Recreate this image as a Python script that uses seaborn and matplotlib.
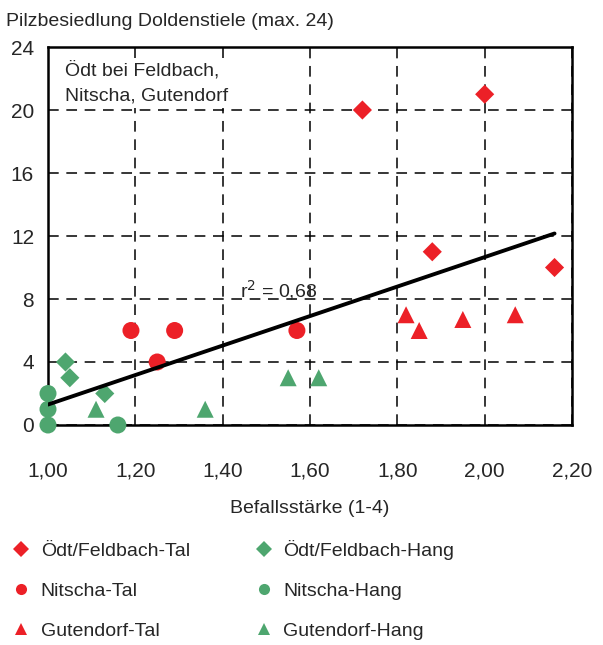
import numpy as np
import pandas as pd
import seaborn as sns
import matplotlib.pyplot as plt

# Befallsstärke (x) und Pilzbesiedlung (y) je Standort
oedt_tal_x = [1.72, 2.00, 1.88, 2.16]
oedt_tal_y = [20, 21, 11, 10]
nitscha_tal_x = [1.19, 1.29, 1.25, 1.57]
nitscha_tal_y = [6, 6, 4, 6]
guten_tal_x = [1.82, 1.85, 1.95, 2.07]
guten_tal_y = [7, 6, 6.7, 7]
oedt_hang_x = [1.04, 1.05, 1.13]
oedt_hang_y = [4, 3, 2]
nitscha_hang_x = [1.00, 1.00, 1.00, 1.16]
nitscha_hang_y = [2, 1, 0, 0]
guten_hang_x = [1.11, 1.36, 1.55, 1.62]
guten_hang_y = [1, 1, 3, 3]

groups = ['Ödt/Feldbach-Tal', 'Nitscha-Tal', 'Gutendorf-Tal',
          'Ödt/Feldbach-Hang', 'Nitscha-Hang', 'Gutendorf-Hang']
xs = [oedt_tal_x, nitscha_tal_x, guten_tal_x, oedt_hang_x, nitscha_hang_x, guten_hang_x]
ys = [oedt_tal_y, nitscha_tal_y, guten_tal_y, oedt_hang_y, nitscha_hang_y, guten_hang_y]

rows = []
for g, gx, gy in zip(groups, xs, ys):
    for a, b in zip(gx, gy):
        rows.append({'Befall': a, 'Pilz': b, 'Gruppe': g})
df = pd.DataFrame(rows)

red = '#ec2027'
green = '#4ea66f'
palette = dict(zip(groups, [red, red, red, green, green, green]))
markers = dict(zip(groups, ['D', 'o', '^', 'D', 'o', '^']))
sizes = dict(zip(groups, [95, 150, 150, 95, 150, 150]))

sns.set_style('white')
plt.rcParams['font.family'] = ['Liberation Sans', 'DejaVu Sans']

fig = plt.figure(figsize=(6.03, 6.45), dpi=100)
ax = fig.add_axes([0.0796, 0.3411, 0.869, 0.586])

sns.scatterplot(data=df, x='Befall', y='Pilz', hue='Gruppe', style='Gruppe', size='Gruppe',
                hue_order=groups, style_order=groups, size_order=groups, palette=palette,
                markers=markers, sizes=sizes, linewidth=0, ax=ax, clip_on=False, zorder=3)

sns.regplot(data=df, x='Befall', y='Pilz', scatter=False, ci=None, ax=ax,
            line_kws={'color': 'black', 'linewidth': 2.8, 'zorder': 4})

ax.set_xlim(1.0, 2.2)
ax.set_ylim(0, 24)
ax.set_xticks(np.arange(1.0, 2.21, 0.2))
ax.set_xticklabels([f'{v:.2f}'.replace('.', ',') for v in np.arange(1.0, 2.21, 0.2)])
ax.set_yticks(range(0, 25, 4))
ax.tick_params(labelsize=15, direction='inout', length=8, width=1.5)
ax.tick_params(axis='x', pad=22)
ax.tick_params(axis='y', pad=6)
ax.grid(True, color='black', linestyle=(0, (7, 5)), linewidth=1.1)
for sp in ax.spines.values():
    sp.set_linewidth(1.8)
    sp.set_color('black')

ax.set_xlabel('Befallsstärke (1-4)', fontsize=14, labelpad=14)
ax.set_ylabel('')
fig.text(0.01, 0.966, 'Pilzbesiedlung Doldenstiele (max. 24)', fontsize=14, va='center')
ax.text(0.033, 0.905, 'Ödt bei Feldbach,\nNitscha, Gutendorf', transform=ax.transAxes,
        fontsize=14, va='center', linespacing=1.65,
        bbox=dict(facecolor='white', edgecolor='none', pad=2))
ax.text(1.44, 8.6, 'r$^2$ = 0,68', fontsize=14, ha='left', va='center')

handles, labels = ax.get_legend_handles_labels()
ax.get_legend().remove()
for h in handles:
    h.set_markersize(8)
fig.legend(handles, labels, ncol=2, loc='upper left', bbox_to_anchor=(-0.013, 0.19),
           frameon=False, fontsize=14, labelspacing=1.15, columnspacing=3.2,
           handletextpad=0.4, handlelength=1.2)

fig.savefig('out.png', dpi=100)
